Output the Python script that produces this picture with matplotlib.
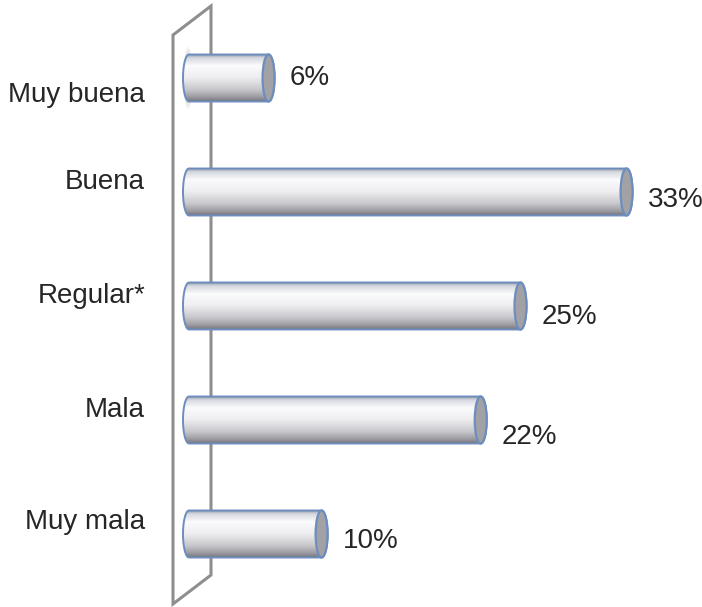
import numpy as np
import matplotlib
matplotlib.use("Agg")
import matplotlib.pyplot as plt
from matplotlib.path import Path
from matplotlib.patches import PathPatch, Ellipse, Polygon
from matplotlib.colors import LinearSegmentedColormap

# ---- data ----
categories = ["Muy buena", "Buena", "Regular*", "Mala", "Muy mala"]
values = [6, 33, 25, 22, 10]
value_labels = ["6%", "33%", "25%", "22%", "10%"]

# ---- layout (pixels) ----
W, H = 702, 607
X0_PX = 189          # pixel of value 0
PX_PER_UNIT = 13.26  # pixels per percentage point
Y0_PX = 78           # center of first bar
DY_PX = 114          # spacing between bars
BAR_H_PX = 47
CAP_W_PX = 12
VALUE_DY_PX = [0, 8, 11, 17, 7]       # vertical nudges of value labels
CAT_DY_PX = [17, -10, -10, -10, -12]  # vertical nudges of category labels

fig = plt.figure(figsize=(W / 100, H / 100), dpi=100)
ax = fig.add_axes([0, 0, 1, 1])
ax.set_xlim(-X0_PX / PX_PER_UNIT, (W - X0_PX) / PX_PER_UNIT)
ax.set_ylim((H - Y0_PX) / DY_PX, -Y0_PX / DY_PX)
ax.axis("off")

def px2x(px):
    return (px - X0_PX) / PX_PER_UNIT

def px2y(py):
    return (py - Y0_PX) / DY_PX

bar_h = BAR_H_PX / DY_PX
cap_w = CAP_W_PX / PX_PER_UNIT

# ---- 3D wall ----
wall = Polygon([(px2x(173), px2y(35)), (px2x(211), px2y(6)),
                (px2x(211), px2y(575)), (px2x(173), px2y(604))],
               closed=True, fill=False, edgecolor="#8e8e8e", lw=2.2, zorder=1)
ax.add_patch(wall)

# soft shadow smudge on the wall behind the first bar
for k in range(6):
    ax.add_patch(Ellipse((px2x(188), 0), (10 - k) / PX_PER_UNIT,
                         (62 - 6 * k) / DY_PX, facecolor="#6a6a6a",
                         edgecolor="none", alpha=0.08, zorder=2))

cmap = LinearSegmentedColormap.from_list(
    "cyl", [(0.0, "#8e939e"), (0.08, "#d5d8de"), (0.25, "#fbfbfc"),
            (0.5, "#eeeef1"), (0.75, "#c9c9cd"), (0.92, "#9a9aa0"),
            (1.0, "#77777e")])
grad = np.linspace(0, 1, 256).reshape(-1, 1)

font = ["Liberation Sans Narrow", "Liberation Sans", "DejaVu Sans"]
text_color = "#262626"

def half_ellipse(xc, yc, a, b, t0, t1, n=40):
    t = np.linspace(t0, t1, n)
    return np.column_stack([xc + a * np.cos(t), yc + b * np.sin(t)])

for i, (cat, v, lab) in enumerate(zip(categories, values, value_labels)):
    yc = i
    top, bot = yc - bar_h / 2, yc + bar_h / 2
    a, b = cap_w / 2, bar_h / 2
    right = half_ellipse(v, yc, a, b, -np.pi / 2, np.pi / 2)
    left = half_ellipse(0, yc, a, b, np.pi / 2, 3 * np.pi / 2)
    verts = np.vstack([[0, top], [v, top], right, [0, bot], left, [0, top]])
    path = Path(verts, closed=True)
    im = ax.imshow(grad, cmap=cmap, aspect="auto", interpolation="bicubic",
                   extent=(-a, v + a, bot, top), zorder=3)
    im.set_clip_path(PathPatch(path, transform=ax.transData))
    ax.add_patch(PathPatch(path, facecolor="none", edgecolor="#6d8dbf",
                           lw=1.4, zorder=4))
    cap = Ellipse((v, yc), cap_w, bar_h, facecolor="#a2a2a6",
                  edgecolor="#6d8dbf", lw=1.6, zorder=5)
    ax.add_patch(cap)
    ax.text(v + cap_w / 2 + 15 / PX_PER_UNIT, yc + VALUE_DY_PX[i] / DY_PX, lab,
            ha="left", va="center", fontsize=20, color=text_color, family=font)
    ax.text(px2x(145), yc + CAT_DY_PX[i] / DY_PX, cat, ha="right", va="center",
            fontsize=20, color=text_color, family=font)

fig.savefig("out.png", dpi=100)
